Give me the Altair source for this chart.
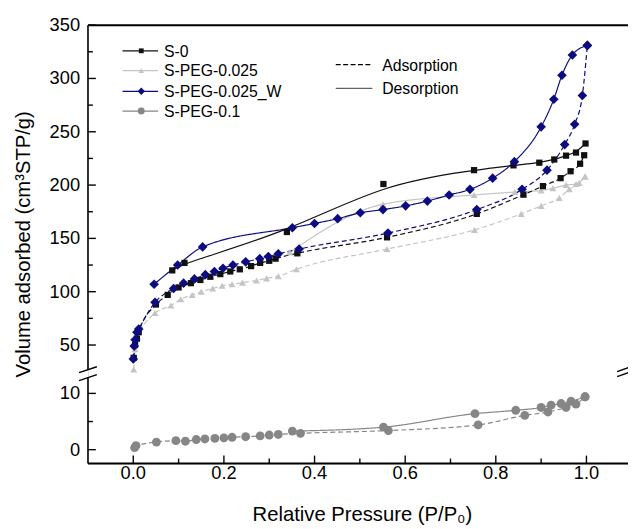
import altair as alt
import pandas as pd

# ---------------- data ----------------
series_names = ["S-PEG-0.025", "S-0", "S-PEG-0.025_W", "S-PEG-0.1"]
series_colors = ["#c4c4c4", "#111111", "#0c0c80", "#868686"]
series_shapes = ["triangle-up", "square", "diamond", "circle"]
series_sizes = [50, 40, 95, 80]

# S-0
s0_ads_x = [0.001, 0.004, 0.008, 0.012, 0.05, 0.076, 0.1, 0.127, 0.148, 0.17, 0.192, 0.214, 0.235,
            0.26, 0.28, 0.3, 0.314, 0.362, 0.56, 0.758, 0.861, 0.904, 0.943, 0.965, 0.986, 0.995]
s0_ads_v = [38, 50, 56, 62, 88, 97, 104, 108, 111, 114, 116.5, 119, 121,
            124, 127, 129, 131, 136, 151, 173, 191, 199, 206.5, 213, 220, 228]
s0_des_x = [0.998, 0.977, 0.955, 0.929, 0.896, 0.839, 0.752, 0.552, 0.339, 0.113, 0.086]
s0_des_v = [239, 230.5, 227.6, 224, 221, 218.5, 214, 201, 156, 127, 120]

# S-PEG-0.025
p025_ads_x = [0.001, 0.004, 0.01, 0.048, 0.083, 0.105, 0.13, 0.15, 0.175, 0.196, 0.218, 0.241,
              0.272, 0.294, 0.32, 0.36, 0.56, 0.753, 0.856, 0.9, 0.94, 0.962, 0.984, 0.997]
p025_ads_v = [27, 46, 57, 80, 87, 93, 97, 100, 103, 105.5, 107, 108.5,
              110.5, 112.5, 114.5, 121, 140, 158, 173, 180.5, 188, 196, 202, 208]
p025_des_x = [0.997, 0.977, 0.955, 0.926, 0.9, 0.842, 0.752, 0.551, 0.345]
p025_des_v = [208, 201, 200, 197, 195, 193.5, 190.7, 182, 137]

# S-PEG-0.025_W
w_ads_x = [0.0, 0.002, 0.004, 0.008, 0.012, 0.048, 0.089, 0.111, 0.135, 0.159, 0.179, 0.198, 0.22,
           0.248, 0.279, 0.298, 0.32, 0.366, 0.562, 0.758, 0.858, 0.913, 0.952, 0.974, 0.991, 1.002]
w_ads_v = [37, 49, 55, 62, 65, 90, 103, 108, 112, 116, 119, 122, 125,
           128, 131, 133, 135.5, 140, 155, 177, 196, 214, 238, 257, 284, 331]
w_des_x = [1.002, 0.969, 0.946, 0.928, 0.9, 0.841, 0.793, 0.743, 0.697, 0.649, 0.601, 0.551,
           0.501, 0.451, 0.40, 0.351, 0.153, 0.098, 0.046]
w_des_v = [331, 322, 303, 280.5, 254.6, 222, 206.5, 196, 190.7, 185, 180.5, 177,
           174, 168.5, 164, 160, 142, 125, 107]

# S-PEG-0.1 (lower part of the broken axis)
p1_ads_x = [0.003, 0.006, 0.051, 0.094, 0.115, 0.139, 0.158, 0.18, 0.2, 0.218, 0.248, 0.28, 0.3,
            0.32, 0.369, 0.563, 0.761, 0.864, 0.915, 0.955, 0.977, 0.997]
p1_ads_v = [0.35, 0.7, 1.35, 1.6, 1.5, 1.8, 1.9, 2.0, 2.1, 2.2, 2.3, 2.45, 2.6,
            2.7, 2.9, 3.4, 4.4, 6.1, 6.7, 7.5, 8.1, 9.4]
p1_des_x = [0.997, 0.966, 0.944, 0.922, 0.9, 0.844, 0.754, 0.552, 0.351]
p1_des_v = [9.4, 8.6, 8.2, 7.9, 7.5, 7.0, 6.4, 4.0, 3.3]

x_ticks_major = [0.0, 0.2, 0.4, 0.6, 0.8, 1.0]
x_ticks_minor = [0.1, 0.3, 0.5, 0.7, 0.9]
y_low_major = [0, 10]
y_low_minor = [5]
y_up_major = [50, 100, 150, 200, 250, 300, 350]
y_up_minor = [75, 125, 175, 225, 275, 325]

x_title = "Relative Pressure (P/P\u2080)"
y_title = "Volume adsorbed (cm\u00b3STP/g)"

# ---------------- layout constants ----------------
W, H = 547, 444
LOW0, LOWK = 14, 5.7        # lower segment: y = 14 + 5.7 * v
UP0, UPK = 120, 1.08        # upper segment: y = 120 + 1.08 * (v - 50)
FONT = "Liberation Sans"

rows = []
def add(series, branch, xs, vs):
    for x, v in zip(xs, vs):
        rows.append({"series": series, "branch": branch, "x": x, "v": v,
                     "key": series + "|" + branch})

add("S-PEG-0.025", "ads", p025_ads_x, p025_ads_v)
add("S-PEG-0.025", "des", p025_des_x, p025_des_v)
add("S-0", "ads", s0_ads_x, s0_ads_v)
add("S-0", "des", s0_des_x, s0_des_v)
add("S-PEG-0.025_W", "ads", w_ads_x, w_ads_v)
add("S-PEG-0.025_W", "des", w_des_x, w_des_v)
add("S-PEG-0.1", "ads", p1_ads_x, p1_ads_v)
add("S-PEG-0.1", "des", p1_des_x, p1_des_v)
df = pd.DataFrame(rows)

yt_expr = (f"datum.series === 'S-PEG-0.1' ? {LOW0} + {LOWK} * datum.v "
           f": {UP0} + {UPK} * (datum.v - 50)")
size_expr = "".join(f"datum.series === '{n}' ? {s} : " for n, s in zip(series_names, series_sizes)) + "40"

xs = alt.Scale(domain=[-0.1, -0.1 + W / 459.0], nice=False, zero=False)
ys = alt.Scale(domain=[0, H], nice=False, zero=False)

def low_t(v):
    return LOW0 + LOWK * v

def up_t(v):
    return UP0 + UPK * (v - 50)

y_major_t = [low_t(v) for v in y_low_major] + [up_t(v) for v in y_up_major]
y_minor_t = [low_t(v) for v in y_low_minor] + [up_t(v) for v in y_up_minor]

color_scale = alt.Scale(domain=series_names, range=series_colors)
dash_scale = alt.Scale(domain=["ads", "des"], range=[[5, 3], [1, 0]])

X = alt.X("x:Q", scale=xs, axis=None)
Y = alt.Y("yt:Q", scale=ys, axis=None)
C = alt.Color("series:N", scale=color_scale, legend=None)

base = alt.Chart(df).transform_calculate(yt=yt_expr, msize=size_expr)

lines_main = base.transform_filter("datum.key !== 'S-0|des'").mark_line(
    strokeWidth=1.2, interpolate="monotone").encode(
    x=X, y=Y, color=C,
    strokeDash=alt.StrokeDash("branch:N", scale=dash_scale, legend=None),
    detail="key:N")
lines_s0 = base.transform_filter("datum.key === 'S-0|des'").mark_line(
    strokeWidth=1.2, interpolate="basis").encode(x=X, y=Y, color=C)

points = base.mark_point(filled=True, opacity=1).encode(
    x=X, y=Y, color=C,
    shape=alt.Shape("series:N", scale=alt.Scale(domain=series_names, range=series_shapes), legend=None),
    size=alt.Size("msize:Q", scale=None, legend=None),
)

# ---------------- ticks (inward) and tick labels ----------------
xt_major = alt.Chart(pd.DataFrame({"x": x_ticks_major})).mark_rule(color="black", strokeWidth=1.4).encode(
    x=X, y=alt.value(H), y2=alt.value(H - 8))
xt_minor = alt.Chart(pd.DataFrame({"x": x_ticks_minor})).mark_rule(color="black", strokeWidth=1.4).encode(
    x=X, y=alt.value(H), y2=alt.value(H - 5))
yt_major = alt.Chart(pd.DataFrame({"t": y_major_t})).mark_rule(color="black", strokeWidth=1.4).encode(
    y=alt.Y("t:Q", scale=ys, axis=None), x=alt.value(0), x2=alt.value(8))
yt_minor = alt.Chart(pd.DataFrame({"t": y_minor_t})).mark_rule(color="black", strokeWidth=1.4).encode(
    y=alt.Y("t:Q", scale=ys, axis=None), x=alt.value(0), x2=alt.value(5))

x_labels = alt.Chart(pd.DataFrame({"x": x_ticks_major})).mark_text(
    font=FONT, fontSize=18.5, color="black", align="center", baseline="middle").encode(
    x=X, y=alt.value(H + 10), text=alt.Text("x:Q", format=".1f"))
y_labels = alt.Chart(pd.DataFrame({"t": y_major_t, "label": y_low_major + y_up_major})).mark_text(
    font=FONT, fontSize=18.5, color="black", align="right", baseline="middle").encode(
    y=alt.Y("t:Q", scale=ys, axis=None), x=alt.value(-8), text=alt.Text("label:Q", format="d"))

x_title_mark = alt.Chart(pd.DataFrame({"a": [0]})).mark_text(
    font=FONT, fontSize=20.5, color="black", align="center", baseline="alphabetic").encode(
    x=alt.value(278), y=alt.value(502), text=alt.value(x_title))
y_title_mark = alt.Chart(pd.DataFrame({"a": [0]})).mark_text(
    font=FONT, fontSize=20.5, color="black", align="center", baseline="middle", angle=270).encode(
    x=alt.value(-65), y=alt.value(222), text=alt.value(y_title))

# ---------------- frame pieces (broken y axis, top and bottom lines) ----------------
def seg(x1, y1, x2, y2, w=1.6, color="black"):
    return alt.Chart(pd.DataFrame({"a": [0]})).mark_rule(color=color, strokeWidth=w).encode(
        x=alt.value(x1), y=alt.value(y1), x2=alt.value(x2), y2=alt.value(y2))

frame = [
    seg(0, 0, W, 0, 2.0),
    seg(0, H, W, H, 1.8),
    seg(0, 0, 0, 349),
    seg(0, 357, 0, H),
    seg(-9, 352, 9, 346, 1.4),
    seg(-9, 360, 9, 354, 1.4),
    seg(536, 351, 550, 346, 1.4),
    seg(536, 356, 550, 351, 1.4),
]

# ---------------- legends ----------------
legend_layers = []
leg_rows_y = [26, 46, 67, 87]
leg_order = ["S-0", "S-PEG-0.025", "S-PEG-0.025_W", "S-PEG-0.1"]
for name, yy in zip(leg_order, leg_rows_y):
    i = series_names.index(name)
    col = series_colors[i]
    legend_layers.append(seg(35, yy, 71, yy, 1.2, col))
    legend_layers.append(alt.Chart(pd.DataFrame({"a": [0]})).mark_point(
        filled=True, opacity=1, color=col, shape=series_shapes[i], size=series_sizes[i] * 0.6).encode(
        x=alt.value(54), y=alt.value(yy)))
    legend_layers.append(alt.Chart(pd.DataFrame({"a": [0]})).mark_text(
        align="left", baseline="middle", font=FONT, fontSize=16, color="black").encode(
        x=alt.value(77), y=alt.value(yy + 1), text=alt.value(name)))

for label, yy, dash in [("Adsorption", 40, [5, 2.5]), ("Desorption", 64, [1, 0])]:
    legend_layers.append(alt.Chart(pd.DataFrame({"a": [0]})).mark_rule(
        color="black", strokeWidth=1.3 if dash[1] else 0.9, strokeDash=dash).encode(
        x=alt.value(251), x2=alt.value(288), y=alt.value(yy)))
    legend_layers.append(alt.Chart(pd.DataFrame({"a": [0]})).mark_text(
        align="left", baseline="middle", font=FONT, fontSize=16, color="black").encode(
        x=alt.value(298), y=alt.value(yy + 1), text=alt.value(label)))

chart = alt.layer(
    lines_main, lines_s0, points, xt_major, xt_minor, yt_major, yt_minor,
    x_labels, y_labels, x_title_mark, y_title_mark, *frame, *legend_layers
).properties(
    width=W, height=H,
    padding={"left": 81, "top": 14, "right": 0, "bottom": 64},
    autosize=alt.AutoSizeParams(type="none"),
).configure_view(stroke=None).configure(background="white")

chart.save("out.html", embed_options={"renderer": "svg", "actions": False})
